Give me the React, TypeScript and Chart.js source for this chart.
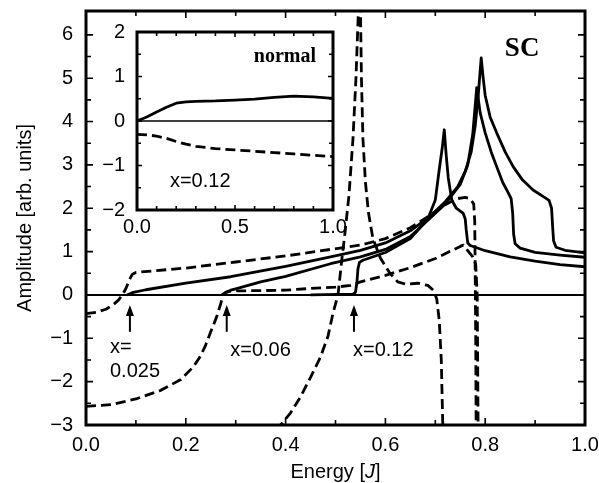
import React, { useEffect, useRef } from 'react';
import { Chart, registerables } from 'chart.js';

Chart.register(...registerables);

const SANS = '"Liberation Sans", Arial, Helvetica, sans-serif';
const SERIF = '"Liberation Serif", "Times New Roman", serif';

// ---------- main panel (SC) ----------
const mainXTicks = [0, 0.2, 0.4, 0.6, 0.8, 1.0];
const mainXMinorTicks = [0, 0.1, 0.2, 0.3, 0.4, 0.5, 0.6, 0.7, 0.8, 0.9, 1.0];
const mainYTicks = [-3, -2, -1, 0, 1, 2, 3, 4, 5, 6];
const mainYMinorTicks = [-3, -2.5, -2, -1.5, -1, -0.5, 0, 0.5, 1, 1.5, 2, 2.5, 3, 3.5, 4, 4.5, 5, 5.5, 6];

const solid025Energy = [0.082, 0.095, 0.12, 0.2, 0.29, 0.4, 0.49, 0.55, 0.6, 0.65, 0.69, 0.72, 0.745, 0.76, 0.772, 0.78, 0.786, 0.792, 0.796, 0.8, 0.81, 0.823, 0.84, 0.856, 0.875, 0.896, 0.915, 0.928, 0.933, 0.935, 0.937, 0.942, 0.96, 1.0];
const solid025Amp = [0, 0.06, 0.12, 0.27, 0.42, 0.66, 0.88, 1.03, 1.2, 1.48, 1.82, 2.15, 2.5, 2.85, 3.3, 3.9, 4.6, 5.47, 5.0, 4.6, 4.1, 3.74, 3.3, 2.96, 2.65, 2.42, 2.28, 2.18, 2.0, 1.6, 1.25, 1.1, 1.03, 0.97];

const solid006Energy = [0.272, 0.28, 0.29, 0.3, 0.35, 0.4, 0.49, 0.55, 0.6, 0.65, 0.683, 0.72, 0.75, 0.765, 0.775, 0.783, 0.79, 0.8, 0.812, 0.823, 0.835, 0.846, 0.852, 0.855, 0.857, 0.86, 0.87, 0.9, 0.95, 1.0];
const solid006Amp = [0, 0.06, 0.11, 0.14, 0.3, 0.43, 0.72, 0.88, 1.05, 1.35, 1.7, 2.1, 2.55, 3.0, 3.7, 4.78, 4.2, 3.74, 3.3, 2.96, 2.6, 2.36, 2.22, 1.9, 1.4, 1.18, 1.08, 0.98, 0.92, 0.87];

const solid012Energy = [0.45, 0.535, 0.54, 0.543, 0.545, 0.548, 0.555, 0.6, 0.65, 0.685, 0.7, 0.708, 0.714, 0.718, 0.722, 0.726, 0.733, 0.742, 0.756, 0.76, 0.762, 0.765, 0.77, 0.8, 0.85, 0.9, 0.95, 1.0];
const solid012Amp = [0, 0.02, 0.06, 0.3, 0.6, 0.75, 0.8, 0.98, 1.3, 1.75, 2.19, 2.9, 3.4, 3.81, 3.2, 2.7, 2.19, 2.0, 1.88, 1.75, 1.5, 1.2, 1.14, 1.02, 0.88, 0.78, 0.7, 0.65];

const dashed025Energy = [0, 0.02, 0.04, 0.055, 0.065, 0.073, 0.08, 0.087, 0.093, 0.1, 0.2, 0.3, 0.4, 0.49, 0.55, 0.6, 0.65, 0.675, 0.7, 0.72, 0.743, 0.76, 0.77, 0.777, 0.779, 0.78, 0.781, 0.782];
const dashed025Amp = [-0.43, -0.4, -0.33, -0.22, -0.12, 0, 0.15, 0.35, 0.48, 0.52, 0.62, 0.76, 0.9, 1.05, 1.15, 1.3, 1.55, 1.73, 1.92, 2.08, 2.22, 2.25, 2.22, 2.1, 1.7, 0.5, -1, -3.5];

const dashed006Energy = [0, 0.05, 0.1, 0.15, 0.19, 0.215, 0.23, 0.24, 0.25, 0.262, 0.27, 0.275, 0.28, 0.29, 0.4, 0.45, 0.5, 0.53, 0.55, 0.6, 0.65, 0.7, 0.75, 0.756, 0.765, 0.775, 0.781, 0.784, 0.786];
const dashed006Amp = [-2.57, -2.53, -2.4, -2.2, -1.95, -1.66, -1.4, -1.15, -0.85, -0.5, -0.2, 0, 0.06, 0.09, 0.11, 0.15, 0.18, 0.22, 0.3, 0.45, 0.63, 0.84, 1.12, 1.15, 1.02, 0.88, 0.7, 0, -3.5];

const dashed012Energy = [0.385, 0.39, 0.41, 0.43, 0.45, 0.47, 0.485, 0.495, 0.505, 0.513, 0.519, 0.527, 0.535, 0.541, 0.546, 0.547, 0.549, 0.55, 0.552, 0.555, 0.56, 0.566, 0.575, 0.59, 0.609, 0.625, 0.64, 0.665, 0.685, 0.697, 0.703, 0.708, 0.712, 0.714, 0.716];
const dashed012Amp = [-3.5, -3.0, -2.72, -2.35, -1.9, -1.43, -0.95, -0.42, 0, 0.85, 1.43, 2.3, 3.6, 5.0, 6.6, 7.5, 7.5, 6.6, 5.0, 3.6, 2.6, 1.9, 1.3, 0.85, 0.5, 0.3, 0.25, 0.27, 0.22, 0.1, -0.1, -0.6, -1.5, -2.5, -3.5];

const arrowEnergy = [0.088, 0.282, 0.537];
const arrowTipAmp = -0.23;
const arrowTailAmp = -0.85;

const labelText = ['x=', '0.025', 'x=0.06', 'x=0.12'];
const labelEnergy = [0.048, 0.048, 0.289, 0.535];
const labelAmp = [-1.22, -1.77, -1.27, -1.27];

// ---------- inset (normal) ----------
const insetXTicks = [0, 0.5, 1.0];
const insetXMinorTicks = [0, 0.1, 0.2, 0.3, 0.4, 0.5, 0.6, 0.7, 0.8, 0.9, 1.0];
const insetYTicks = [-2, -1, 0, 1, 2];
const insetYMinorTicks = [-2, -1.5, -1, -0.5, 0, 0.5, 1, 1.5, 2];

const normalEnergy = [0, 0.05, 0.1, 0.15, 0.2, 0.25, 0.3, 0.4, 0.5, 0.6, 0.7, 0.8, 0.9, 1.0];
const normalSolid = [0, 0.09, 0.2, 0.31, 0.4, 0.43, 0.44, 0.45, 0.47, 0.49, 0.53, 0.56, 0.54, 0.51];
const normalDashed = [-0.3, -0.31, -0.34, -0.39, -0.46, -0.52, -0.57, -0.62, -0.65, -0.68, -0.71, -0.74, -0.77, -0.8];

const pts = (xs: number[], ys: number[]) => xs.map((x, i) => ({ x, y: ys[i] }));
const near = (a: number, list: number[]) => list.some((m) => Math.abs(a - m) < 1e-6);
const fmtY = (v: number) => (v < 0 ? '\u2212' + Math.abs(v) : String(v));

function lineDs(xs: number[], ys: number[], dashed: boolean, width = 2.8) {
  return {
    data: pts(xs, ys),
    borderColor: '#000',
    borderWidth: width,
    borderDash: dashed ? [10, 5] : [],
    pointRadius: 0,
    fill: false,
    tension: 0,
    borderCapStyle: 'butt' as const,
    borderJoinStyle: 'round' as const,
  };
}

type DecoCfg = {
  id: string;
  fillBg: boolean;
  zeroWidth: number;
  frameWidth: number;
  xMinor: number[];
  xMajor: number[];
  yMinor: number[];
  yMajor: number[];
  majorLen: number;
  minorLen: number;
  texts: { text: string; x: number; y: number; font: string; align: CanvasTextAlign }[];
  arrows: { x: number; tip: number; tail: number }[];
  xTitle: boolean;
};

function makeDeco(cfg: DecoCfg) {
  return {
    id: cfg.id,
    beforeDatasetsDraw(chart: any) {
      const { ctx, chartArea: a, scales } = chart;
      const y = scales.y;
      ctx.save();
      if (cfg.fillBg) {
        ctx.fillStyle = '#fff';
        ctx.fillRect(a.left, a.top, a.right - a.left, a.bottom - a.top);
      }
      const y0 = y.getPixelForValue(0);
      ctx.strokeStyle = '#000';
      ctx.lineWidth = cfg.zeroWidth;
      ctx.beginPath();
      ctx.moveTo(a.left, y0);
      ctx.lineTo(a.right, y0);
      ctx.stroke();
      ctx.restore();
    },
    afterDatasetsDraw(chart: any) {
      const { ctx, chartArea: a, scales } = chart;
      const x = scales.x;
      const y = scales.y;
      ctx.save();
      ctx.strokeStyle = '#000';
      ctx.lineWidth = 1.6;
      ctx.setLineDash([]);
      ctx.beginPath();
      cfg.xMinor.forEach((v) => {
        const px = x.getPixelForValue(v);
        const len = near(v, cfg.xMajor) ? cfg.majorLen : cfg.minorLen;
        ctx.moveTo(px, a.bottom);
        ctx.lineTo(px, a.bottom - len);
        ctx.moveTo(px, a.top);
        ctx.lineTo(px, a.top + len);
      });
      cfg.yMinor.forEach((v) => {
        const py = y.getPixelForValue(v);
        const len = near(v, cfg.yMajor) ? cfg.majorLen : cfg.minorLen;
        ctx.moveTo(a.left, py);
        ctx.lineTo(a.left + len, py);
        ctx.moveTo(a.right, py);
        ctx.lineTo(a.right - len, py);
      });
      ctx.stroke();
      ctx.lineWidth = cfg.frameWidth;
      ctx.strokeRect(a.left, a.top, a.right - a.left, a.bottom - a.top);

      // arrows
      ctx.fillStyle = '#000';
      cfg.arrows.forEach((ar) => {
        const px = x.getPixelForValue(ar.x);
        const tip = y.getPixelForValue(ar.tip);
        const tail = y.getPixelForValue(ar.tail);
        ctx.lineWidth = 2;
        ctx.beginPath();
        ctx.moveTo(px, tail);
        ctx.lineTo(px, tip + 8);
        ctx.stroke();
        ctx.beginPath();
        ctx.moveTo(px, tip);
        ctx.lineTo(px - 4, tip + 11);
        ctx.lineTo(px + 4, tip + 11);
        ctx.closePath();
        ctx.fill();
      });

      // texts
      cfg.texts.forEach((t) => {
        ctx.font = t.font;
        ctx.textAlign = t.align;
        ctx.textBaseline = 'middle';
        ctx.fillText(t.text, x.getPixelForValue(t.x), y.getPixelForValue(t.y));
      });

      if (cfg.xTitle) {
        const f = '20px ' + SANS;
        const fi = 'italic 20px ' + SANS;
        const parts = [
          { s: 'Energy [', f },
          { s: 'J', f: fi },
          { s: ']', f },
        ];
        let total = 0;
        parts.forEach((p) => {
          ctx.font = p.f;
          total += ctx.measureText(p.s).width;
        });
        let cx = (a.left + a.right) / 2 - total / 2;
        const cy = 472;
        ctx.textAlign = 'left';
        ctx.textBaseline = 'middle';
        parts.forEach((p) => {
          ctx.font = p.f;
          ctx.fillText(p.s, cx, cy);
          cx += ctx.measureText(p.s).width;
        });
      }
      ctx.restore();
    },
  };
}

function zeroPad(s: any) {
  s.paddingLeft = 0;
  s.paddingRight = 0;
  s.paddingTop = 0;
  s.paddingBottom = 0;
}

export default function App() {
  const mainRef = useRef<HTMLCanvasElement>(null);
  const insetRef = useRef<HTMLCanvasElement>(null);

  useEffect(() => {
    const tickFont = { family: SANS, size: 20 };

    const mainDeco = makeDeco({
      id: 'decoMain',
      fillBg: false,
      zeroWidth: 2,
      frameWidth: 3,
      xMinor: mainXMinorTicks,
      xMajor: mainXTicks,
      yMinor: mainYMinorTicks,
      yMajor: mainYTicks,
      majorLen: 7,
      minorLen: 5,
      texts: [
        { text: 'SC', x: 0.874, y: 5.67, font: 'bold 27px ' + SERIF, align: 'center' },
        ...labelText.map((t, i) => ({ text: t, x: labelEnergy[i], y: labelAmp[i], font: '20px ' + SANS, align: 'left' as CanvasTextAlign })),
      ],
      arrows: arrowEnergy.map((e) => ({ x: e, tip: arrowTipAmp, tail: arrowTailAmp })),
      xTitle: true,
    });

    const main = new Chart(mainRef.current as HTMLCanvasElement, {
      type: 'line',
      data: {
        datasets: [
          lineDs(solid025Energy, solid025Amp, false),
          lineDs(solid006Energy, solid006Amp, false),
          lineDs(solid012Energy, solid012Amp, false),
          lineDs(dashed025Energy, dashed025Amp, true),
          lineDs(dashed006Energy, dashed006Amp, true),
          lineDs(dashed012Energy, dashed012Amp, true),
        ] as any,
      },
      options: {
        responsive: false,
        animation: false,
        devicePixelRatio: 1,
        events: [],
        layout: { padding: { top: 11, right: 14, left: 0, bottom: 0 } },
        plugins: { legend: { display: false }, tooltip: { enabled: false } },
        scales: {
          x: {
            type: 'linear',
            min: 0,
            max: 1,
            grid: { display: false, drawTicks: false },
            border: { display: false },
            ticks: {
              font: tickFont,
              color: '#000',
              padding: 8,
              maxRotation: 0,
              autoSkip: false,
              callback: (v: any) => Number(v).toFixed(1),
            },
            afterBuildTicks: (s: any) => {
              s.ticks = mainXTicks.map((v) => ({ value: v }));
            },
            afterFit: (s: any) => {
              s.height = 58;
              zeroPad(s);
            },
          },
          y: {
            type: 'linear',
            min: -3,
            max: 6.55,
            grid: { display: false, drawTicks: false },
            border: { display: false },
            title: {
              display: true,
              text: 'Amplitude [arb. units]',
              font: { family: SANS, size: 20 },
              color: '#000',
              padding: { top: 13, bottom: 0 },
            },
            ticks: {
              font: tickFont,
              color: '#000',
              padding: 13,
              autoSkip: false,
              callback: (v: any) => fmtY(Number(v)),
            },
            afterBuildTicks: (s: any) => {
              s.ticks = mainYTicks.map((v) => ({ value: v }));
            },
            afterFit: (s: any) => {
              s.width = 86;
              zeroPad(s);
            },
          },
        },
      } as any,
      plugins: [mainDeco],
    });

    const insetDeco = makeDeco({
      id: 'decoInset',
      fillBg: true,
      zeroWidth: 1.5,
      frameWidth: 3,
      xMinor: insetXMinorTicks,
      xMajor: insetXTicks,
      yMinor: insetYMinorTicks,
      yMajor: insetYTicks,
      majorLen: 5,
      minorLen: 4,
      texts: [
        { text: 'normal', x: 0.755, y: 1.44, font: 'bold 20px ' + SERIF, align: 'center' },
        { text: 'x=0.12', x: 0.168, y: -1.35, font: '20px ' + SANS, align: 'left' },
      ],
      arrows: [],
      xTitle: false,
    });

    const inset = new Chart(insetRef.current as HTMLCanvasElement, {
      type: 'line',
      data: {
        datasets: [
          lineDs(normalEnergy, normalSolid, false),
          lineDs(normalEnergy, normalDashed, true),
        ] as any,
      },
      options: {
        responsive: false,
        animation: false,
        devicePixelRatio: 1,
        events: [],
        layout: { padding: { top: 12, right: 17, left: 0, bottom: 0 } },
        plugins: { legend: { display: false }, tooltip: { enabled: false } },
        scales: {
          x: {
            type: 'linear',
            min: 0,
            max: 1,
            grid: { display: false, drawTicks: false },
            border: { display: false },
            ticks: {
              font: tickFont,
              color: '#000',
              padding: 5,
              maxRotation: 0,
              autoSkip: false,
              callback: (v: any) => Number(v).toFixed(1),
            },
            afterBuildTicks: (s: any) => {
              s.ticks = insetXTicks.map((v) => ({ value: v }));
            },
            afterFit: (s: any) => {
              s.height = 32;
              zeroPad(s);
            },
          },
          y: {
            type: 'linear',
            min: -2,
            max: 2,
            grid: { display: false, drawTicks: false },
            border: { display: false },
            ticks: {
              font: tickFont,
              color: '#000',
              padding: 12,
              autoSkip: false,
              callback: (v: any) => fmtY(Number(v)),
            },
            afterBuildTicks: (s: any) => {
              s.ticks = insetYTicks.map((v) => ({ value: v }));
            },
            afterFit: (s: any) => {
              s.width = 37;
              zeroPad(s);
            },
          },
        },
      } as any,
      plugins: [insetDeco],
    });

    return () => {
      main.destroy();
      inset.destroy();
    };
  }, []);

  return (
    <div style={{ position: 'fixed', left: 0, top: 0, width: 599, height: 483, background: '#fff' }}>
      <canvas ref={mainRef} width={599} height={483} style={{ position: 'absolute', left: 0, top: 0 }} />
      <canvas ref={insetRef} width={250} height={222} style={{ position: 'absolute', left: 100, top: 20 }} />
    </div>
  );
}
